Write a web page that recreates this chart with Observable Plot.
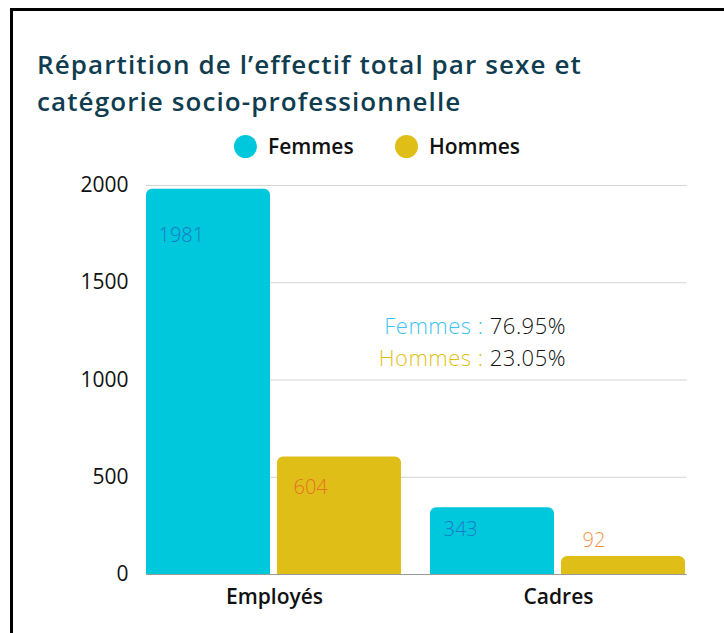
<!DOCTYPE html>
<html>
<head>
<meta charset="utf-8">
<script src="https://cdn.jsdelivr.net/npm/d3@7"></script>
<script src="https://cdn.jsdelivr.net/npm/@observablehq/plot@0.6"></script>
<style>
  html, body { margin: 0; padding: 0; background: #fff; width: 724px; height: 633px; overflow: hidden; }
  body { position: relative; font-family: "Open Sans", Lato, sans-serif; }
  #frame { position: absolute; left: 10px; top: 8px; width: 800px; height: 700px; border-left: 3px solid #000; border-top: 3px solid #000; }
  #title { position: absolute; left: 37px; top: 46px; font-size: 26px; font-weight: 600; color: #0f3d4f; line-height: 37px; letter-spacing: 1.1px; }
  #legend { position: absolute; top: 132px; left: 0; width: 724px; height: 26px; }
  .lg { position: absolute; top: 0; display: flex; align-items: center; font-size: 21px; font-weight: 600; color: #111; }
  .dot { width: 23px; height: 23px; border-radius: 50%; margin-right: 11px; }
  #annot { position: absolute; right: 158px; top: 309px; text-align: right; font-size: 22px; font-weight: 300; line-height: 32px; color: #111; letter-spacing: 0.5px; }
  #chart { position: absolute; left: 0; top: 165px; }
</style>
</head>
<body>
<div id="frame"></div>
<div id="title">Répartition de l’effectif total par sexe et<br>catégorie socio-professionnelle</div>
<div id="legend"></div>
<div id="annot"></div>
<div id="chart"></div>
<script>
const categories = ["Employés", "Cadres"];
const sexes = ["Femmes", "Hommes"];
const femmes = [1981, 343];
const hommes = [604, 92];
const yTicks = [0, 500, 1000, 1500, 2000];
const shares = {Femmes: "76.95%", Hommes: "23.05%"};
const colors = ["#00c8dc", "#dfbf17"];
const annotColors = ["#3ec3ef", "#dfbf17"];

const data = categories.flatMap((c, i) => [
  {cat: c, sex: "Femmes", value: femmes[i]},
  {cat: c, sex: "Hommes", value: hommes[i]}
]);

// legend
const legend = document.getElementById("legend");
const legendX = [234, 395];
sexes.forEach((s, i) => {
  const el = document.createElement("div");
  el.className = "lg";
  el.style.left = legendX[i] + "px";
  el.innerHTML = `<span class="dot" style="background:${colors[i]}"></span>${s}`;
  legend.appendChild(el);
});

// annotation
document.getElementById("annot").innerHTML = sexes.map((s, i) =>
  `<div><span style="color:${annotColors[i]}">${s} : </span>${shares[s]}</div>`).join("");

function label(cat, sex, color, dx, dy) {
  return Plot.text(data.filter(d => d.cat === cat && d.sex === sex), {
    fx: "cat", x: "sex", y: "value", text: d => String(d.value),
    fill: color, textAnchor: "start", dx, dy, fontSize: 20, fontWeight: 300,
    style: "letter-spacing:-1.4px"
  });
}

// gridlines: drawn in the first facet and extended across the second one
const grid = (ticks, stroke) => Plot.ruleY(ticks, {
  y: d => d, fx: () => categories[0], stroke, strokeWidth: 1, insetRight: -284.7
});

const chart = Plot.plot({
  width: 724,
  height: 449,
  marginLeft: 145,
  marginRight: 38,
  marginTop: 20,
  marginBottom: 40,
  style: {fontFamily: "'Open Sans', Lato, sans-serif", background: "transparent", overflow: "visible"},
  fx: {domain: categories, paddingInner: 0.1, paddingOuter: 0, label: null},
  x: {domain: sexes, paddingInner: 0.053, paddingOuter: 0, axis: null},
  y: {domain: [0, 2000], label: null, axis: null},
  color: {domain: sexes, range: colors},
  marks: [
    grid(yTicks.slice(1), "#d4d4d4"),
    grid([0], "#9a9a9a"),
    Plot.barY(data, {fx: "cat", x: "sex", y: "value", fill: "sex", ry1: 6}),
    label("Employés", "Femmes", "#1a7bc4", -50, 46),
    label("Employés", "Hommes", "#e8702a", -46, 31),
    label("Cadres", "Femmes", "#1a7bc4", -49, 22),
    label("Cadres", "Hommes", "#f39449", -41, -16),
    Plot.axisY({ticks: yTicks, tickSize: 0, tickPadding: 18, tickFormat: "d", fontSize: 21, fontWeight: 500, fill: "#111", label: null}),
    Plot.axisFx({anchor: "bottom", tickSize: 0, tickPadding: 15, fontSize: 21, fontWeight: 600, fill: "#111", label: null})
  ]
});
document.getElementById("chart").appendChild(chart);
</script>
</body>
</html>
